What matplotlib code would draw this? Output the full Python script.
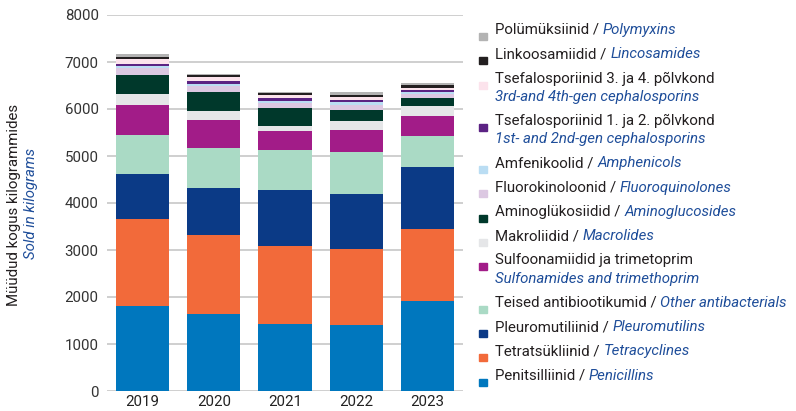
import numpy as np
import matplotlib
matplotlib.use("Agg")
import matplotlib.pyplot as plt
from matplotlib.patches import Rectangle

plt.rcParams["font.family"] = ["Roboto", "DejaVu Sans"]

years = ["2019", "2020", "2021", "2022", "2023"]

# series from bottom of the stack to the top
names_et = [
    "Penitsilliinid",
    "Tetratsükliinid",
    "Pleuromutiliinid",
    "Teised antibiootikumid",
    "Sulfoonamiidid ja trimetoprim",
    "Makroliidid",
    "Aminoglükosiidid",
    "Fluorokinoloonid",
    "Amfenikoolid",
    "Tsefalosporiinid 1. ja 2. põlvkond",
    "Tsefalosporiinid 3. ja 4. põlvkond",
    "Linkoosamiidid",
    "Polümüksiinid",
]
names_en = [
    "Penicillins",
    "Tetracyclines",
    "Pleuromutilins",
    "Other antibacterials",
    "Sulfonamides and trimethoprim",
    "Macrolides",
    "Aminoglucosides",
    "Fluoroquinolones",
    "Amphenicols",
    "1st- and 2nd-gen cephalosporins",
    "3rd-and 4th-gen cephalosporins",
    "Lincosamides",
    "Polymyxins",
]
# entries whose English name goes on a second line in the legend
two_line = [False, False, False, False, True, False, False, False, False, True, True, False, False]

colors = [
    "#0077BE", "#F26A3A", "#0B3A86", "#AADAC5", "#A21C88", "#E5E6E8", "#00382B",
    "#DCC8E2", "#BADDF3", "#5B2283", "#FCE3EC", "#231F20", "#B3B3B3",
]

penicillins = [1810, 1640, 1430, 1410, 1925]
tetracyclines = [1850, 1680, 1660, 1610, 1525]
pleuromutilins = [955, 1000, 1190, 1170, 1325]
other = [830, 850, 850, 895, 655]
sulfonamides = [640, 595, 405, 470, 425]
macrolides = [235, 200, 105, 190, 215]
aminoglycosides = [405, 405, 385, 235, 170]
fluoroquinolones = [155, 120, 105, 105, 85]
amphenicols = [45, 45, 40, 65, 45]
ceph_12 = [35, 70, 65, 40, 40]
ceph_34 = [95, 80, 65, 65, 45]
lincosamides = [55, 30, 50, 45, 65]
polymyxins = [65, 35, 15, 65, 40]

series = [
    penicillins, tetracyclines, pleuromutilins, other, sulfonamides, macrolides,
    aminoglycosides, fluoroquinolones, amphenicols, ceph_12, ceph_34,
    lincosamides, polymyxins,
]

text_dark = "#231F20"
text_blue = "#1F4E9A"
fs = 10.8

fig = plt.figure(figsize=(7.96, 4.11), dpi=100)
W, H = 796, 411
ax = fig.add_axes([107 / W, 1 - 391 / H, 356 / W, 376 / H])

x = np.arange(len(years))
bottom = np.zeros(len(years))
for vals, c in zip(series, colors):
    ax.bar(x, vals, width=0.745, bottom=bottom, color=c, zorder=3)
    bottom += np.array(vals)

ax.set_xlim(-0.5, len(years) - 0.5)
ax.set_ylim(0, 8000)
ax.set_yticks(np.arange(0, 8001, 1000))
ax.set_xticks(x)
ax.set_xticklabels(years)
ax.yaxis.grid(True, color="#CFCFCF", linewidth=1.4)
ax.set_axisbelow(True)
for s in ax.spines.values():
    s.set_visible(False)
ax.tick_params(axis="y", length=0, pad=6, labelsize=fs, labelcolor="#333333")
ax.tick_params(axis="x", length=0, pad=3, labelsize=fs, labelcolor="#222222")

# y axis title in two languages
fig.text(14 / W, 1 - 205 / H, "Müüdud kogus kilogrammides", rotation=90,
         ha="center", va="center", fontsize=fs, color=text_dark)
fig.text(31 / W, 1 - 203 / H, "Sold in kilograms", rotation=90,
         ha="center", va="center", fontsize=fs, color=text_blue, style="italic")

# legend, drawn by hand so each entry can mix two text styles
y = 34.0
for i in reversed(range(len(series))):
    fig.patches.append(Rectangle((479 / W, 1 - (y - 1) / H), 8 / W, -7 / H,
                                 transform=fig.transFigure, color=colors[i]))
    if two_line[i]:
        fig.text(495 / W, 1 - y / H, names_et[i], fontsize=fs,
                 color=text_dark, va="baseline")
        fig.text(495 / W, 1 - (y + 18.3) / H, names_en[i], fontsize=fs,
                 color=text_blue, style="italic", va="baseline")
        y += 42.3
    else:
        t = fig.text(495 / W, 1 - y / H, names_et[i] + " / ", fontsize=fs,
                     color=text_dark, va="baseline")
        ax.annotate(names_en[i], xy=(1, 0), xycoords=t, va="bottom",
                    fontsize=fs, color=text_blue, style="italic")
        y += 24.3

fig.savefig("out.png", dpi=100)
